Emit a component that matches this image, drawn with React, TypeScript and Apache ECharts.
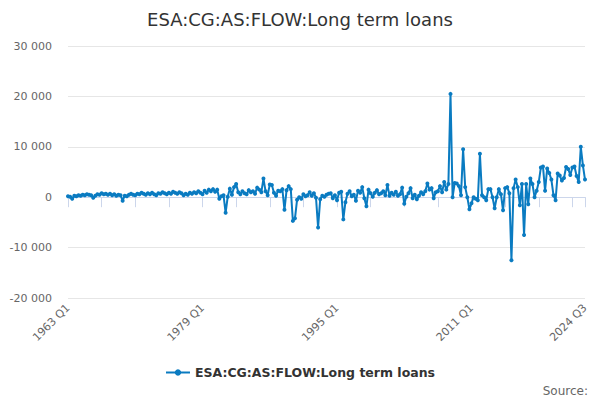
import React, { useEffect, useRef } from "react";
import * as echarts from "echarts";

const TITLE = "ESA:CG:AS:FLOW:Long term loans";
const SERIES_NAME = "ESA:CG:AS:FLOW:Long term loans";
const START_YEAR = 1963;
const END_YEAR = 2024;
const END_QUARTER = 3;

const buildCategories = (): string[] => {
  const out: string[] = [];
  for (let y = START_YEAR; y <= END_YEAR; y++) {
    for (let q = 1; q <= 4; q++) {
      if (y === END_YEAR && q > END_QUARTER) break;
      out.push(`${y} Q${q}`);
    }
  }
  return out;
};
const categories = buildCategories();

const values1963to1972: number[] = [
  200, 100, -300, 300, 200, 400, 300, 500, 400, 600, 500, 400, -100, 300, 600, 500,
  800, 600, 700, 500, 700, 400, 600, 300, 500, 400, -700, 300, 200, 500, 700, 500,
  400, 700, 600, 900, 700, 500, 800, 600, 900,
];
const values1973to1983: number[] = [
  600, 400, 800, 700, 1000, 800, 600, 900, 700, 1100, 900, 700, 1000, 800, 400, 700,
  500, 900, 700, 1000, 800, 1200, 900, 600, 1300, 900, 1500, 1200, 1600, 1100, 1500, -300,
  200, 400, -3100, 100, 1700, 500, 2000, 2600,
];
const values1983to1993: number[] = [
  1000, 600, 1200, 800, 600, 1400, 1000, 1200, 700, 1900, 1500, 1000, 3700, 1200, 400, 2500,
  2400, 900, 300, 1300, 1200, 1600, -2500, 1400, 2200, 1600, -4700, -4200, -500, 0, -300, 600,
  200, 400, 1000, 300, 800, -100, -6000, -400, 300, 100, 500,
];
const values1994to2004: number[] = [
  700, 800, -200, 400, -600, 900, 1100, -4400, -1000, 700, 1200, 200, 500, -700, 1300, 900,
  2000, -200, -1800, 1500, 800, 100, 900, 1400, 600, 800, 1200, 400, 2400, 300, 900, 500,
  1100, 300, 600, 1900, -1300, 100, 800, 1800, -200, 500,
];
const values2004to2008: number[] = [
  -400, 300, 1000, 600, 1200, 2700, 1500, 1800, -200, 1000, 1200, 2200, 1000, 3000, 1500, 2600,
  20500,
];
const values2008to2024: number[] = [
  0, 2800, 2700, 2200, 400, 9500, 2000, 0, -2400, -1200, 0, -300, -600, 8600, 400, 0,
  -600, 1600, 1600, 0, -2200, 0, 1600, 600, -2600, 1800, 2000, 800, -12500, 1800, 3500, 2000,
  -1600, 2600, -7500, 2600, -1400, 3700, 2600, 0, 1300, 3000, 5900, 6100, 1300, 5700, 4800, 3500,
  400, -600, 4700, 4300, 3300, 3800, 6000, 5600, 4400, 5900, 6100, 4200, 3000, 10000, 6300, 3500,
];
const values: number[] = [
  ...values1963to1972,
  ...values1973to1983,
  ...values1983to1993,
  ...values1994to2004,
  ...values2004to2008,
  ...values2008to2024,
];

const Y_MIN = -20000;
const Y_MAX = 30000;
const Y_STEP = 10000;

const fmt = (v: number) => {
  const s = Math.abs(v).toString().replace(/\B(?=(\d{3})+(?!\d))/g, " ");
  return (v < 0 ? "-" : "") + s;
};

export default function App() {
  const ref = useRef<HTMLDivElement>(null);
  useEffect(() => {
    if (!ref.current) return;
    const chart = echarts.init(ref.current, undefined, { renderer: "svg" });
    const last = categories.length - 1;
    const font = "DejaVu Sans, Arial, sans-serif";
    chart.setOption({
      animation: false,
      textStyle: { fontFamily: font },
      title: {
        text: TITLE,
        left: "center",
        top: 5,
        textStyle: { fontSize: 18, fontWeight: "normal", color: "#333333", fontFamily: font },
      },
      grid: { left: 68, right: 15, top: 46, bottom: 102, containLabel: false },
      legend: {
        bottom: 16,
        left: "center",
        itemWidth: 24,
        itemHeight: 8,
        textStyle: { fontSize: 12.5, fontWeight: "bold", color: "#333333", fontFamily: font },
        data: [SERIES_NAME],
      },
      graphic: [
        {
          type: "text",
          right: 12,
          bottom: 3,
          style: { text: "Source:", fill: "#666666", fontSize: 12, fontFamily: font },
        },
      ],
      xAxis: {
        type: "category",
        data: categories,
        boundaryGap: false,
        axisLine: { lineStyle: { color: "#ccd6eb" } },
        axisTick: {
          show: true,
          length: 10,
          lineStyle: { color: "#ccd6eb" },
          interval: (i: number) => i % 16 === 0 || i === last,
        },
        axisLabel: {
          rotate: 45,
          color: "#666666",
          fontSize: 11,
          margin: 8,
          fontFamily: font,
          interval: (i: number) => i % 64 === 0 || i === last,
        },
        splitLine: { show: false },
      },
      yAxis: {
        type: "value",
        min: Y_MIN,
        max: Y_MAX,
        interval: Y_STEP,
        axisLine: { show: false },
        axisTick: { show: false },
        axisLabel: { color: "#666666", fontSize: 11, margin: 16, formatter: (v: number) => fmt(v), fontFamily: font },
        splitLine: { lineStyle: { color: "#e6e6e6" } },
      },
      series: [
        {
          name: SERIES_NAME,
          type: "line",
          data: values,
          symbol: "circle",
          symbolSize: 4,
          showSymbol: true,
          showAllSymbol: true,
          lineStyle: { color: "#0a7bc1", width: 2 },
          itemStyle: { color: "#0a7bc1" },
        },
      ],
    });
    return () => chart.dispose();
  }, []);
  return (
    <div
      ref={ref}
      style={{ position: "absolute", left: 0, top: 0, width: 600, height: 400 }}
    />
  );
}
